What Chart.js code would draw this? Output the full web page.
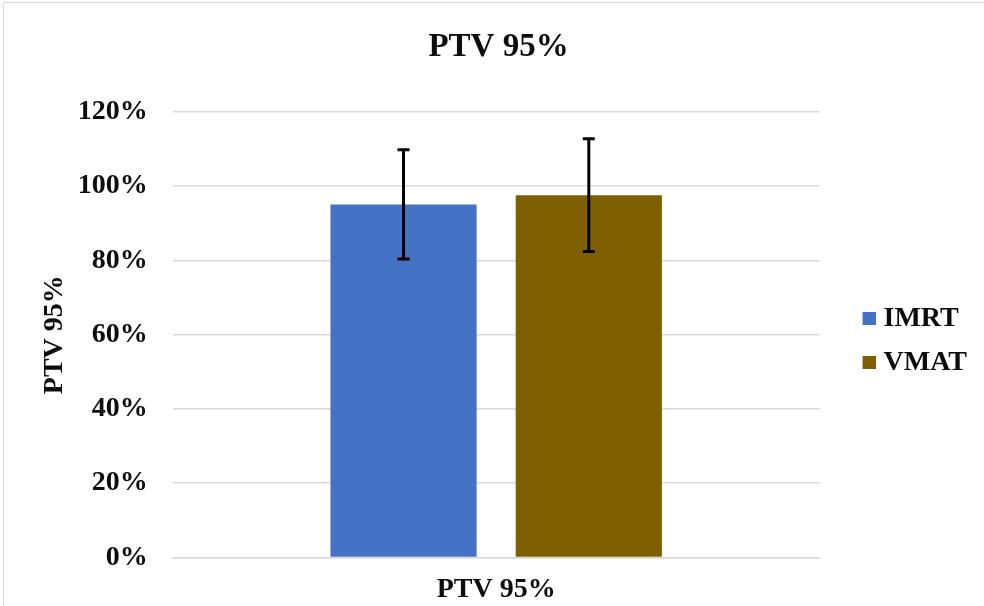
<!DOCTYPE html>
<html>
<head>
<meta charset="utf-8">
<script src="https://cdn.jsdelivr.net/npm/chart.js@4"></script>
<style>
  html, body { margin: 0; padding: 0; background: #fff; }
  #wrap { position: relative; width: 984px; height: 606px; overflow: hidden; }
  #frame { position: absolute; left: 3px; top: 2px; width: 1100px; height: 700px; border: 1px solid #d9d9d9; }
  canvas { position: absolute; left: 0; top: 0; }
</style>
</head>
<body>
<div id="wrap">
  <div id="frame"></div>
  <canvas id="chart" width="984" height="606"></canvas>
</div>
<script>
// Data
const categories = ["PTV 95%"];
const imrtValues = [95.1];
const vmatValues = [97.6];
const imrtErrors = [14.7];
const vmatErrors = [15.2];
const yTicks = [0, 20, 40, 60, 80, 100, 120];

const colors = ["#4472C4", "#7F6000"];
const serif = "'Liberation Serif', 'Times New Roman', serif";
const textColor = "#0d0d0d";

// Legend swatch: a 13px square sitting at the right end of a wider transparent image
function legendSwatch(color) {
  const c = document.createElement("canvas");
  c.width = 46;
  c.height = 13;
  const g = c.getContext("2d");
  g.fillStyle = color;
  g.fillRect(33, 0, 13, 13);
  return c;
}

// Draws the black error bars on top of each bar
const errorBars = {
  id: "errorBars",
  afterDatasetsDraw(chart) {
    const ctx = chart.ctx;
    const y = chart.scales.y;
    chart.data.datasets.forEach((ds, i) => {
      const meta = chart.getDatasetMeta(i);
      meta.data.forEach((bar, j) => {
        const v = ds.data[j];
        const e = ds.errors[j];
        const top = y.getPixelForValue(v + e);
        const bot = y.getPixelForValue(v - e);
        ctx.save();
        ctx.strokeStyle = "#000";
        ctx.lineWidth = 3;
        ctx.beginPath();
        ctx.moveTo(bar.x, top);
        ctx.lineTo(bar.x, bot);
        ctx.moveTo(bar.x - 6, top);
        ctx.lineTo(bar.x + 6, top);
        ctx.moveTo(bar.x - 6, bot);
        ctx.lineTo(bar.x + 6, bot);
        ctx.stroke();
        ctx.restore();
      });
    });
  }
};

new Chart(document.getElementById("chart"), {
  type: "bar",
  data: {
    labels: categories,
    datasets: [
      { label: "IMRT", data: imrtValues, errors: imrtErrors, backgroundColor: colors[0] },
      { label: "VMAT", data: vmatValues, errors: vmatErrors, backgroundColor: colors[1] }
    ]
  },
  options: {
    responsive: false,
    animation: false,
    categoryPercentage: 0.573,
    barPercentage: 0.789,
    layout: { padding: { left: 20, top: 10, right: 7, bottom: -17 } },
    plugins: {
      title: {
        display: true,
        text: "PTV 95%",
        color: textColor,
        font: { family: serif, size: 33, weight: "bold", lineHeight: 1.2 },
        padding: { top: 18, bottom: 44.4 }
      },
      legend: {
        position: "right",
        fullSize: false,
        // empty title only nudges the items down a little
        title: { display: true, text: " ", font: { size: 1 }, padding: 5.5 },
        labels: {
          color: textColor,
          font: { family: serif, size: 28, weight: "bold", lineHeight: 1.2 },
          usePointStyle: true,
          pointStyleWidth: 34,
          boxHeight: 13,
          padding: 16,
          generateLabels(chart) {
            const items = Chart.defaults.plugins.legend.labels.generateLabels(chart);
            items.forEach((it, i) => { it.pointStyle = legendSwatch(colors[i]); });
            return items;
          }
        }
      },
      tooltip: { enabled: false }
    },
    scales: {
      x: {
        grid: { display: false, drawTicks: false },
        border: { color: "#d9d9d9", width: 1.5 },
        ticks: {
          color: textColor,
          padding: 16,
          font: { family: serif, size: 28, weight: "bold", lineHeight: 1.2 }
        }
      },
      y: {
        min: 0,
        max: 120,
        afterBuildTicks: (axis) => { axis.ticks = yTicks.map(v => ({ value: v })); },
        grid: { color: "#d9d9d9", lineWidth: 1.5, drawTicks: false },
        border: { display: false },
        ticks: {
          color: textColor,
          padding: 25,
          font: { family: serif, size: 28, weight: "bold" },
          callback: (v) => v + "%"
        },
        title: {
          display: true,
          text: "PTV 95%",
          color: textColor,
          font: { family: serif, size: 28, weight: "bold", lineHeight: 1.2 },
          padding: { top: 18.2, bottom: -19 }
        }
      }
    }
  },
  plugins: [errorBars]
});
</script>
</body>
</html>
